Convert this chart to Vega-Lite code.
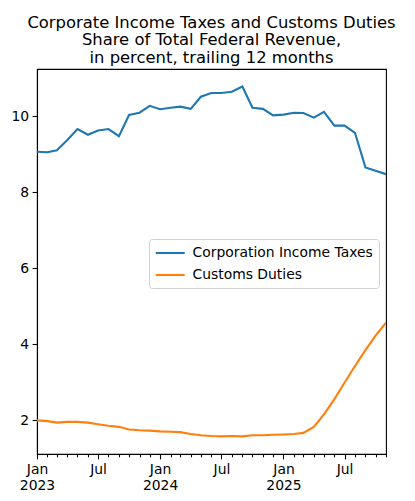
{
  "$schema": "https://vega.github.io/schema/vega-lite/v6.json",
  "width": 349,
  "height": 385,
  "autosize": {"type": "none"},
  "padding": {"left": 37, "top": 69, "right": 29, "bottom": 47},
  "background": "white",
  "config": {
    "font": "DejaVu Sans",
    "view": {"stroke": "black", "strokeWidth": 1.1},
    "axis": {
      "domainColor": "black", "domainWidth": 1.1, "tickColor": "black", "tickWidth": 1.1,
      "labelColor": "black", "labelFont": "DejaVu Sans", "labelFontSize": 13.9,
      "grid": false, "title": null
    }
  },
  "title": {
    "text": ["Corporate Income Taxes and Customs Duties", "Share of Total Federal Revenue,", "in percent, trailing 12 months"],
    "font": "DejaVu Sans", "fontSize": 16.4, "fontWeight": "normal", "color": "black",
    "lineHeight": 17.5, "anchor": "middle", "offset": 3, "frame": "group"
  },
  "data": {"values": [
    {"date": "2023-01-01", "series": "Corporation Income Taxes", "value": 9.06},
    {"date": "2023-02-01", "series": "Corporation Income Taxes", "value": 9.05},
    {"date": "2023-03-01", "series": "Corporation Income Taxes", "value": 9.10},
    {"date": "2023-04-01", "series": "Corporation Income Taxes", "value": 9.37},
    {"date": "2023-05-01", "series": "Corporation Income Taxes", "value": 9.66},
    {"date": "2023-06-01", "series": "Corporation Income Taxes", "value": 9.51},
    {"date": "2023-07-01", "series": "Corporation Income Taxes", "value": 9.62},
    {"date": "2023-08-01", "series": "Corporation Income Taxes", "value": 9.66},
    {"date": "2023-09-01", "series": "Corporation Income Taxes", "value": 9.47},
    {"date": "2023-10-01", "series": "Corporation Income Taxes", "value": 10.03},
    {"date": "2023-11-01", "series": "Corporation Income Taxes", "value": 10.09},
    {"date": "2023-12-01", "series": "Corporation Income Taxes", "value": 10.27},
    {"date": "2024-01-01", "series": "Corporation Income Taxes", "value": 10.18},
    {"date": "2024-02-01", "series": "Corporation Income Taxes", "value": 10.22},
    {"date": "2024-03-01", "series": "Corporation Income Taxes", "value": 10.25},
    {"date": "2024-04-01", "series": "Corporation Income Taxes", "value": 10.19},
    {"date": "2024-05-01", "series": "Corporation Income Taxes", "value": 10.51},
    {"date": "2024-06-01", "series": "Corporation Income Taxes", "value": 10.61},
    {"date": "2024-07-01", "series": "Corporation Income Taxes", "value": 10.61},
    {"date": "2024-08-01", "series": "Corporation Income Taxes", "value": 10.64},
    {"date": "2024-09-01", "series": "Corporation Income Taxes", "value": 10.78},
    {"date": "2024-10-01", "series": "Corporation Income Taxes", "value": 10.22},
    {"date": "2024-11-01", "series": "Corporation Income Taxes", "value": 10.19},
    {"date": "2024-12-01", "series": "Corporation Income Taxes", "value": 10.02},
    {"date": "2025-01-01", "series": "Corporation Income Taxes", "value": 10.04},
    {"date": "2025-02-01", "series": "Corporation Income Taxes", "value": 10.09},
    {"date": "2025-03-01", "series": "Corporation Income Taxes", "value": 10.08},
    {"date": "2025-04-01", "series": "Corporation Income Taxes", "value": 9.96},
    {"date": "2025-05-01", "series": "Corporation Income Taxes", "value": 10.11},
    {"date": "2025-06-01", "series": "Corporation Income Taxes", "value": 9.75},
    {"date": "2025-07-01", "series": "Corporation Income Taxes", "value": 9.75},
    {"date": "2025-08-01", "series": "Corporation Income Taxes", "value": 9.56},
    {"date": "2025-09-01", "series": "Corporation Income Taxes", "value": 8.65},
    {"date": "2025-10-01", "series": "Corporation Income Taxes", "value": 8.56},
    {"date": "2025-11-01", "series": "Corporation Income Taxes", "value": 8.47},
    {"date": "2023-01-01", "series": "Customs Duties", "value": 1.99},
    {"date": "2023-02-01", "series": "Customs Duties", "value": 1.97},
    {"date": "2023-03-01", "series": "Customs Duties", "value": 1.93},
    {"date": "2023-04-01", "series": "Customs Duties", "value": 1.95},
    {"date": "2023-05-01", "series": "Customs Duties", "value": 1.95},
    {"date": "2023-06-01", "series": "Customs Duties", "value": 1.93},
    {"date": "2023-07-01", "series": "Customs Duties", "value": 1.89},
    {"date": "2023-08-01", "series": "Customs Duties", "value": 1.85},
    {"date": "2023-09-01", "series": "Customs Duties", "value": 1.82},
    {"date": "2023-10-01", "series": "Customs Duties", "value": 1.75},
    {"date": "2023-11-01", "series": "Customs Duties", "value": 1.73},
    {"date": "2023-12-01", "series": "Customs Duties", "value": 1.72},
    {"date": "2024-01-01", "series": "Customs Duties", "value": 1.70},
    {"date": "2024-02-01", "series": "Customs Duties", "value": 1.69},
    {"date": "2024-03-01", "series": "Customs Duties", "value": 1.68},
    {"date": "2024-04-01", "series": "Customs Duties", "value": 1.63},
    {"date": "2024-05-01", "series": "Customs Duties", "value": 1.60},
    {"date": "2024-06-01", "series": "Customs Duties", "value": 1.58},
    {"date": "2024-07-01", "series": "Customs Duties", "value": 1.57},
    {"date": "2024-08-01", "series": "Customs Duties", "value": 1.58},
    {"date": "2024-09-01", "series": "Customs Duties", "value": 1.57},
    {"date": "2024-10-01", "series": "Customs Duties", "value": 1.60},
    {"date": "2024-11-01", "series": "Customs Duties", "value": 1.60},
    {"date": "2024-12-01", "series": "Customs Duties", "value": 1.61},
    {"date": "2025-01-01", "series": "Customs Duties", "value": 1.62},
    {"date": "2025-02-01", "series": "Customs Duties", "value": 1.63},
    {"date": "2025-03-01", "series": "Customs Duties", "value": 1.66},
    {"date": "2025-04-01", "series": "Customs Duties", "value": 1.82},
    {"date": "2025-05-01", "series": "Customs Duties", "value": 2.15},
    {"date": "2025-06-01", "series": "Customs Duties", "value": 2.55},
    {"date": "2025-07-01", "series": "Customs Duties", "value": 2.98},
    {"date": "2025-08-01", "series": "Customs Duties", "value": 3.42},
    {"date": "2025-09-01", "series": "Customs Duties", "value": 3.84},
    {"date": "2025-10-01", "series": "Customs Duties", "value": 4.22},
    {"date": "2025-11-01", "series": "Customs Duties", "value": 4.56}
  ]},
  "mark": {"type": "line", "strokeWidth": 2.1, "clip": true},
  "encoding": {
    "x": {
      "field": "date", "type": "temporal",
      "scale": {"type": "utc", "domain": [{"year": 2023, "month": 1, "date": 1, "utc": true}, {"year": 2025, "month": 11, "date": 1, "utc": true}], "nice": false},
      "axis": {
        "values": [
          {"year": 2023, "month": 1, "date": 1, "utc": true}, {"year": 2023, "month": 2, "date": 1, "utc": true}, {"year": 2023, "month": 3, "date": 1, "utc": true}, {"year": 2023, "month": 4, "date": 1, "utc": true}, {"year": 2023, "month": 5, "date": 1, "utc": true}, {"year": 2023, "month": 6, "date": 1, "utc": true}, {"year": 2023, "month": 7, "date": 1, "utc": true}, {"year": 2023, "month": 8, "date": 1, "utc": true}, {"year": 2023, "month": 9, "date": 1, "utc": true}, {"year": 2023, "month": 10, "date": 1, "utc": true}, {"year": 2023, "month": 11, "date": 1, "utc": true}, {"year": 2023, "month": 12, "date": 1, "utc": true},
          {"year": 2024, "month": 1, "date": 1, "utc": true}, {"year": 2024, "month": 2, "date": 1, "utc": true}, {"year": 2024, "month": 3, "date": 1, "utc": true}, {"year": 2024, "month": 4, "date": 1, "utc": true}, {"year": 2024, "month": 5, "date": 1, "utc": true}, {"year": 2024, "month": 6, "date": 1, "utc": true}, {"year": 2024, "month": 7, "date": 1, "utc": true}, {"year": 2024, "month": 8, "date": 1, "utc": true}, {"year": 2024, "month": 9, "date": 1, "utc": true}, {"year": 2024, "month": 10, "date": 1, "utc": true}, {"year": 2024, "month": 11, "date": 1, "utc": true}, {"year": 2024, "month": 12, "date": 1, "utc": true},
          {"year": 2025, "month": 1, "date": 1, "utc": true}, {"year": 2025, "month": 2, "date": 1, "utc": true}, {"year": 2025, "month": 3, "date": 1, "utc": true}, {"year": 2025, "month": 4, "date": 1, "utc": true}, {"year": 2025, "month": 5, "date": 1, "utc": true}, {"year": 2025, "month": 6, "date": 1, "utc": true}, {"year": 2025, "month": 7, "date": 1, "utc": true}, {"year": 2025, "month": 8, "date": 1, "utc": true}, {"year": 2025, "month": 9, "date": 1, "utc": true}, {"year": 2025, "month": 10, "date": 1, "utc": true}, {"year": 2025, "month": 11, "date": 1, "utc": true}
        ],
        "labelExpr": "utcmonth(datum.value) == 0 ? ['Jan', utcFormat(datum.value, '%Y')] : (utcmonth(datum.value) == 6 ? 'Jul' : '')",
        "labelAlign": "center", "labelBaseline": "top", "labelPadding": 4, "labelLineHeight": 16,
        "labelOverlap": false, "labelFlush": false,
        "tickSize": {"condition": {"test": "utcmonth(datum.value) % 6 == 0", "value": 4.9}, "value": 2.8}
      }
    },
    "y": {
      "field": "value", "type": "quantitative",
      "scale": {"domain": [1.105, 11.24], "nice": false, "zero": false},
      "axis": {"values": [2, 4, 6, 8, 10], "tickSize": 4.9, "labelPadding": 3.5}
    },
    "color": {
      "field": "series", "type": "nominal",
      "scale": {"domain": ["Corporation Income Taxes", "Customs Duties"], "range": ["#1f77b4", "#ff7f0e"]},
      "legend": {
        "title": null, "orient": "none", "legendX": 112, "legendY": 170,
        "symbolType": "M-1,0H3", "symbolSize": 210, "symbolStrokeWidth": 2.1, "symbolFillColor": "transparent",
        "labelFont": "DejaVu Sans", "labelFontSize": 13.9, "labelColor": "black", "labelOffset": 21,
        "padding": 5.5, "rowPadding": 6, "strokeColor": "#d0d0d0", "fillColor": "white", "cornerRadius": 3,
        "labelLimit": 300
      }
    }
  }
}
